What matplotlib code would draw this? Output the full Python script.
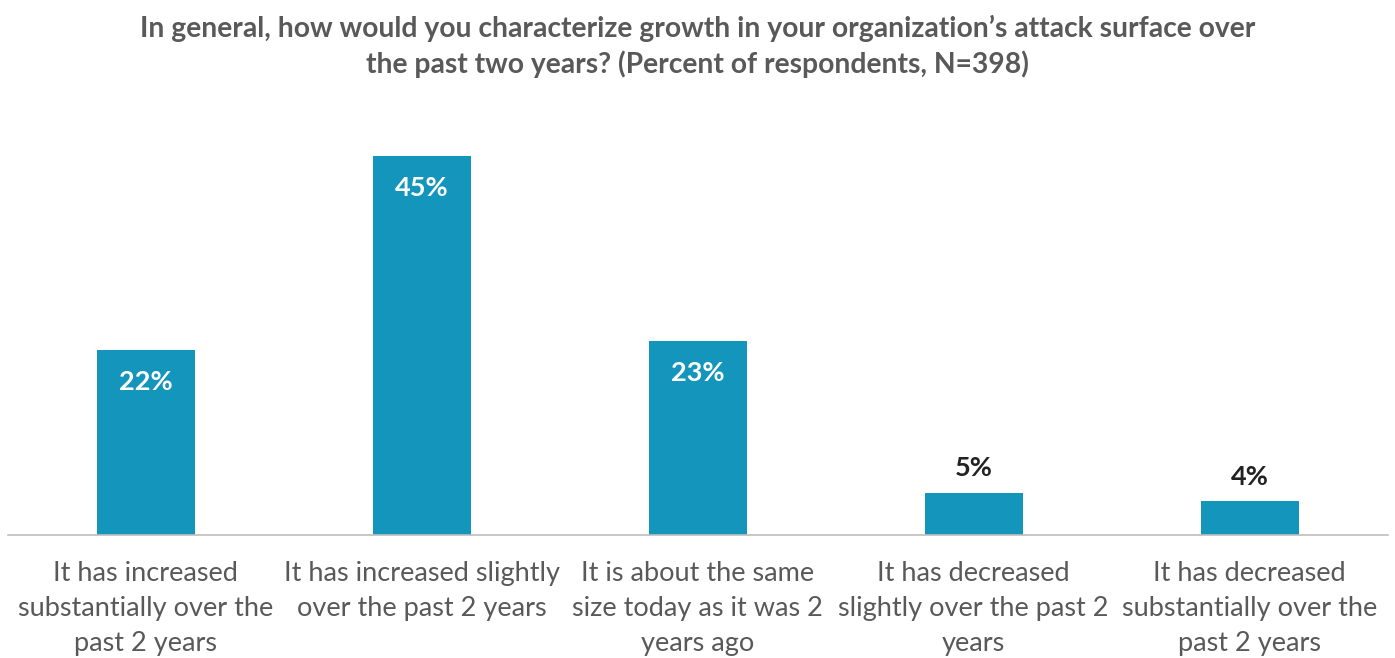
import matplotlib
matplotlib.use('Agg')
from matplotlib import pyplot as plt

plt.rcParams['font.family'] = ['Lato', 'DejaVu Sans']

#categories and percent of respondents
categories = ['It has increased\nsubstantially over the\npast 2 years',
              'It has increased slightly\nover the past 2 years',
              'It is about the same\nsize today as it was 2\nyears ago',
              'It has decreased\nslightly over the past 2\nyears',
              'It has decreased\nsubstantially over the\npast 2 years']
values = [22, 45, 23, 5, 4]
title = ("In general, how would you characterize growth in your organization\u2019s attack surface over\n"
         "the past two years? (Percent of respondents, N=398)")

bar_color = '#1495BB'
grey = '#595959'

fig = plt.figure(figsize=(13.95, 6.58), dpi=100)
ax = fig.add_axes([0.0057, 0.187, 0.989, 0.640])

x = list(range(len(values)))
bars = ax.bar(x, values, width=0.355, color=bar_color)

#labels inside the tall bars, above the short ones
for xi, v in zip(x, values):
    if v >= 10:
        ax.text(xi, v - 2.4, f'{v}%', ha='center', va='top', color='white',
                fontsize=19.5, fontweight='bold')
    else:
        ax.text(xi, v + 1.5, f'{v}%', ha='center', va='bottom', color='#222222',
                fontsize=19.5, fontweight='bold')

ax.set_xlim(-0.5, 4.5)
ax.set_ylim(0, 50)
ax.set_xticks(x)
ax.set_xticklabels(categories, fontsize=19.5, color=grey, linespacing=1.5)
ax.tick_params(axis='x', length=0, pad=19)
ax.set_yticks([])
for s in ['top', 'right', 'left']:
    ax.spines[s].set_visible(False)
ax.spines['bottom'].set_color('#BFBFBF')
ax.spines['bottom'].set_linewidth(1.2)

fig.text(0.5, 0.977, title, ha='center', va='top', fontsize=20.3, fontweight='bold',
         color=grey, linespacing=1.35)

fig.savefig('out.png', dpi=100)
